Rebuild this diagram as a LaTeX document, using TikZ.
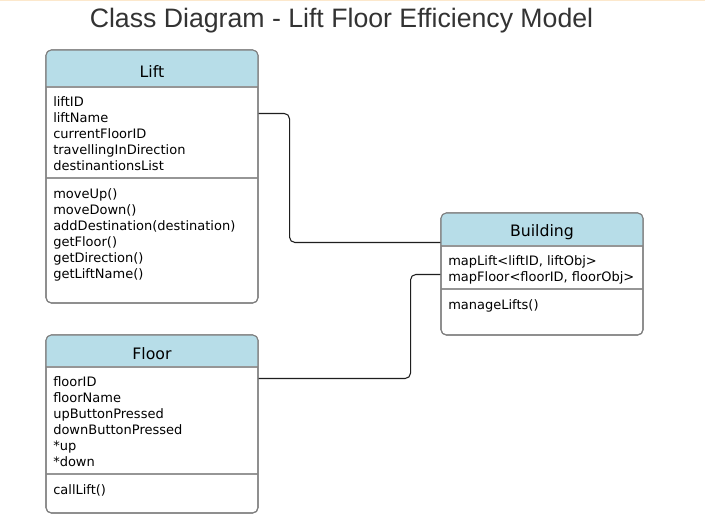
\documentclass[tikz,border=0pt]{standalone}
\usepackage{fontspec}
\setmainfont{DejaVu Sans}
\newfontfamily\titlefont{Liberation Sans}
\definecolor{hdrblue}{RGB}{183,221,232}
\definecolor{boxgray}{RGB}{128,128,128}
\definecolor{sepgray}{RGB}{150,150,150}
\definecolor{topline}{RGB}{252,232,204}
\definecolor{conncol}{RGB}{30,30,30}
\definecolor{titlecol}{RGB}{51,51,51}
\tikzset{
  classbox/.style={draw=boxgray, line width=0.8pt, rounded corners=4pt, inner sep=0pt, fill=none},
  hdrtext/.style={font=\fontsize{11.8pt}{13pt}\selectfont, inner sep=0pt, anchor=center},
  membertext/.style={font=\fontsize{9.75pt}{12pt}\selectfont, inner sep=0pt, anchor=base west},
  sepline/.style={draw=sepgray, line width=0.8pt},
  conn/.style={draw=conncol, line width=0.8pt, rounded corners=4pt},
}
\begin{document}
\begin{tikzpicture}[x=0.75pt,y=-0.75pt]
\useasboundingbox (0,0) rectangle (705,529);
\fill[white] (0,0) rectangle (705,529);
\draw[topline, line width=1.2pt] (0,0.5) -- (705,0.5);
\node[font=\titlefont\fontsize{20pt}{24pt}\selectfont, text=titlecol, anchor=base, inner sep=0pt] (title) at (341.5,27) {Class Diagram - Lift Floor Efficiency Model};

% ---------- Lift ----------
\node[classbox, minimum width=159pt, minimum height=189.75pt] (lift) at (152,176.5) {};
\begin{scope}
\clip[rounded corners=4pt] (46,50) rectangle (258,303);
\fill[hdrblue] (46,50) rectangle (258,87);
\end{scope}
\draw[sepline] (46,87) -- (258,87);
\draw[sepline] (46,178) -- (258,178);
\draw[classbox] (46,50) rectangle (258,303);
\node[hdrtext] (liftname) at (152,71.5) {Lift};
\foreach \t [count=\i] in {liftID,liftName,currentFloorID,travellingInDirection,destinantionsList}
  \node[membertext] (lifta\i) at (53,{106+16*(\i-1)}) {\t};
\foreach \t [count=\i] in {moveUp(),moveDown(),addDestination(destination),getFloor(),getDirection(),getLiftName()}
  \node[membertext] (liftm\i) at (53,{198+16*(\i-1)}) {\t};

% ---------- Floor ----------
\node[classbox, minimum width=159pt, minimum height=133.5pt] (floor) at (152,424) {};
\begin{scope}
\clip[rounded corners=4pt] (46,335) rectangle (258,513);
\fill[hdrblue] (46,335) rectangle (258,367);
\end{scope}
\draw[sepline] (46,367) -- (258,367);
\draw[sepline] (46,474) -- (258,474);
\draw[classbox] (46,335) rectangle (258,513);
\node[hdrtext] (floorname) at (152,353.5) {Floor};
\foreach \t [count=\i] in {floorID,floorName,upButtonPressed,downButtonPressed,*up,*down}
  \node[membertext] (floora\i) at (53,{386+16*(\i-1)}) {\t};
\node[membertext] (floorm1) at (53,494) {callLift()};

% ---------- Building ----------
\node[classbox, minimum width=151.5pt, minimum height=91.5pt] (building) at (542,274) {};
\begin{scope}
\clip[rounded corners=4pt] (441,213) rectangle (643,335);
\fill[hdrblue] (441,213) rectangle (643,246);
\end{scope}
\draw[sepline] (441,246) -- (643,246);
\draw[sepline] (441,289) -- (643,289);
\draw[classbox] (441,213) rectangle (643,335);
\node[hdrtext] (buildingname) at (542,232) {Building};
\node[membertext] (builda1) at (448,265) {mapLift<liftID, liftObj>};
\node[membertext] (builda2) at (448,281) {mapFloor<floorID, floorObj>};
\node[membertext] (buildm1) at (448,309) {manageLifts()};

% ---------- Connectors ----------
\draw[conn] ([shift={(0,64)}]lift.north east) -- ++(31,0) |- ([shift={(0,30)}]building.north west);
\draw[conn] ([shift={(0,44)}]floor.north east) -- ++(152,0) |- ([shift={(0,62)}]building.north west);
\end{tikzpicture}
\end{document}
